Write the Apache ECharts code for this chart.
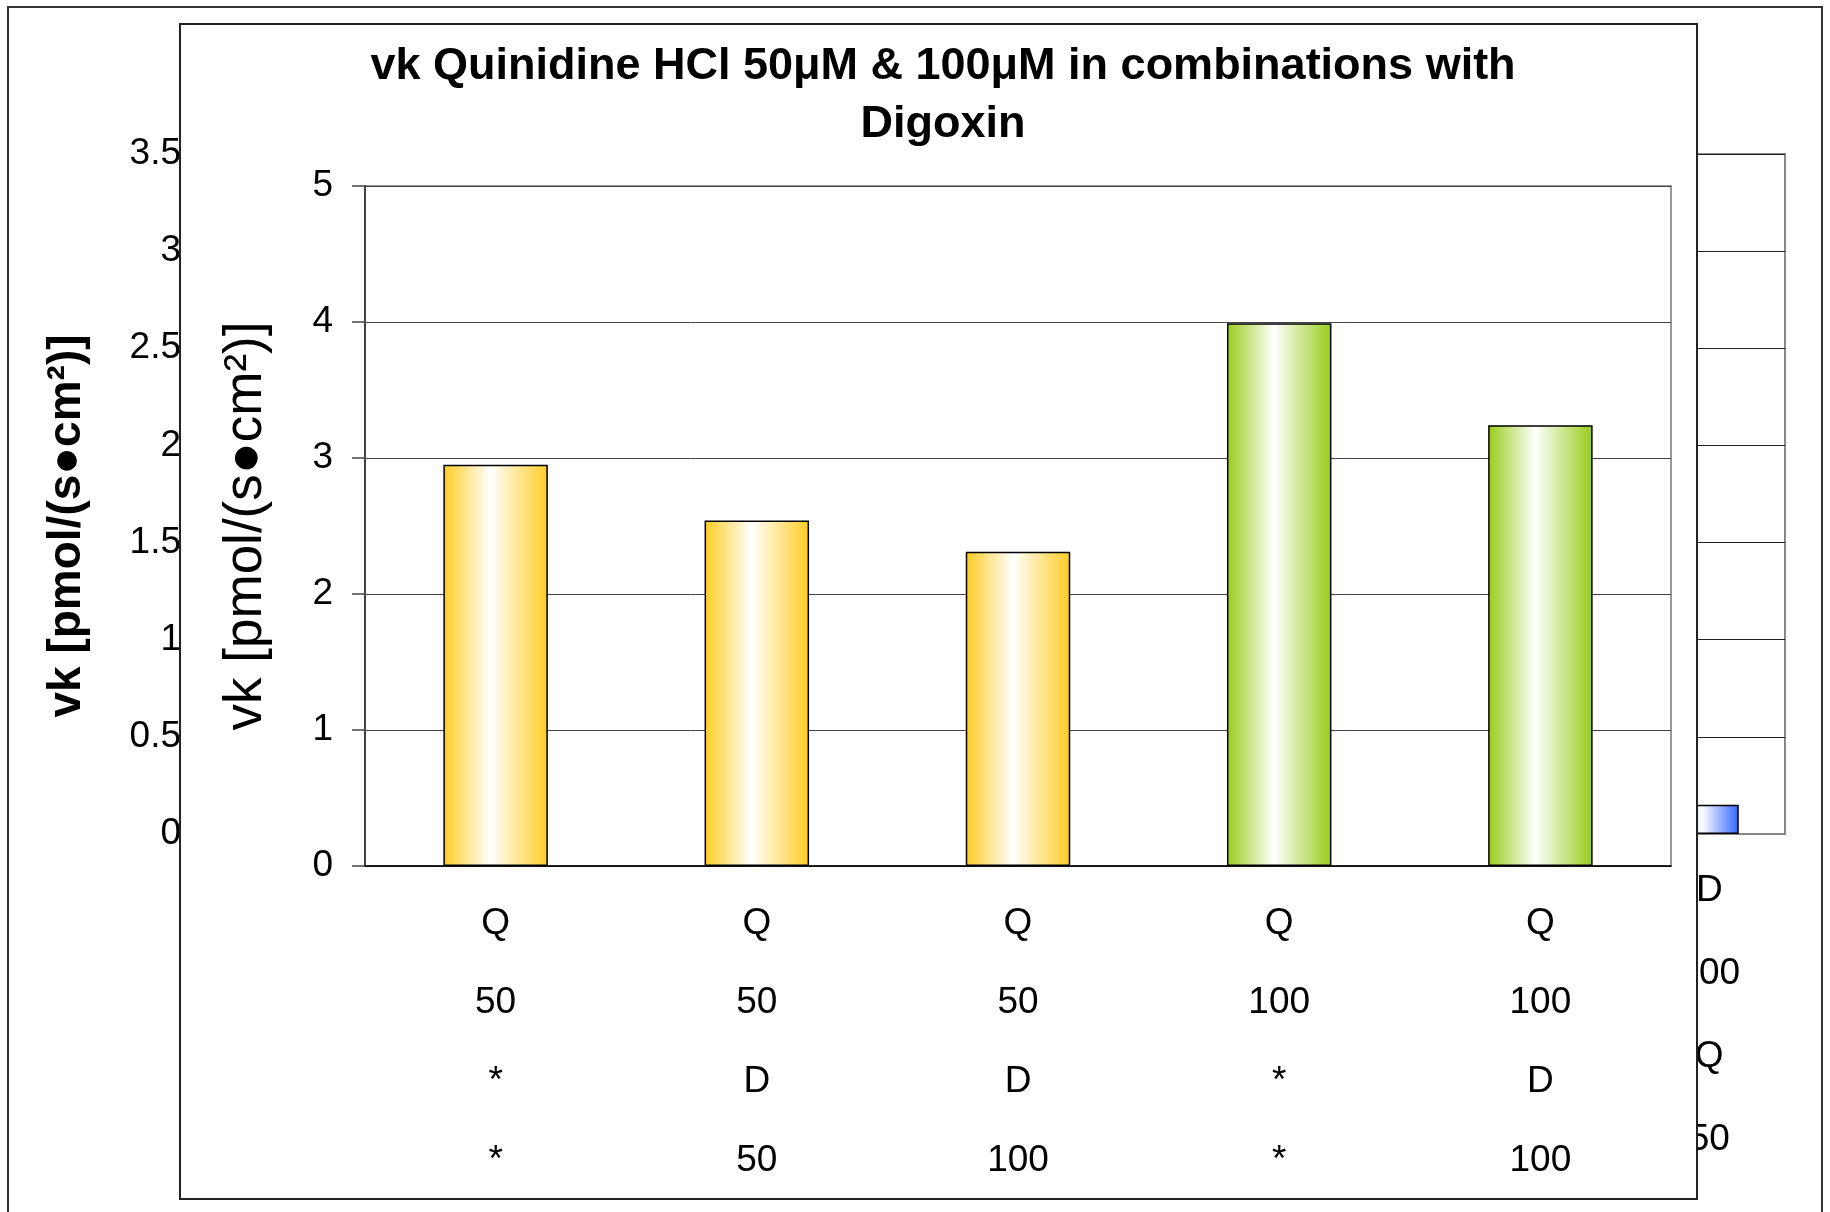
<!DOCTYPE html>
<html>
<head>
<meta charset="utf-8">
<script src="https://cdn.jsdelivr.net/npm/echarts@6/dist/echarts.min.js"></script>
<style>
  html, body { margin: 0; padding: 0; background: #fff; }
  #back { position: absolute; left: 0; top: 0; width: 1830px; height: 1212px; }
  #front { position: absolute; left: 179px; top: 23px; width: 1519px; height: 1177px; background: #fff; }
</style>
</head>
<body>
<div id="back"></div>
<div id="front"></div>
<script>
// Main chart: vk of Quinidine HCl alone and combined with Digoxin
const chartTitle = 'vk Quinidine HCl 50\u03bcM & 100\u03bcM in combinations with\nDigoxin';
const yAxisTitle = 'vk [pmol/(s\u25cfcm\u00b2)]';
const categoryLines = [
  ['Q', '50', '*', '*'],
  ['Q', '50', 'D', '50'],
  ['Q', '50', 'D', '100'],
  ['Q', '100', '*', '*'],
  ['Q', '100', 'D', '100']
];
const vkValues = [2.95, 2.54, 2.31, 3.99, 3.24];
const quinidineDose = [50, 50, 50, 100, 100];
const yTicks = { min: 0, max: 5, interval: 1 };

// Underlying sheet chart, mostly covered by the main chart panel
const backCategoryLines = [
  [], [], [], [], [], [], [], [], [],
  ['D', '100', 'Q', '50']
];
const backValues = [null, null, null, null, null, null, null, null, null, 0.15];
const backTicks = { min: 0, max: 3.5, interval: 0.5 };

const FONT = '"Liberation Sans", Arial, sans-serif';

function shade(edge) {
  return new echarts.graphic.LinearGradient(0, 0, 1, 0, [
    { offset: 0, color: edge },
    { offset: 0.45, color: '#ffffff' },
    { offset: 1, color: edge }
  ]);
}
const doseColor = { 50: '#FFCC22', 100: '#99CC1A' };

// ---------- back chart ----------
const back = echarts.init(document.getElementById('back'), null, { renderer: 'canvas' });
back.setOption({
  animation: false,
  textStyle: { fontFamily: FONT },
  graphic: [{
    type: 'rect', silent: true, z: 0,
    shape: { x: 8, y: 7, width: 1814, height: 1300 },
    style: { fill: 'none', stroke: '#333', lineWidth: 2 }
  }],
  grid: { left: 190, right: 45, top: 154, bottom: 378, show: true, borderColor: '#888', borderWidth: 2 },
  xAxis: {
    type: 'category',
    data: backCategoryLines.map(l => l.join('\n')),
    axisLine: { lineStyle: { color: '#888', width: 2 } },
    axisTick: { length: 331, lineStyle: { color: '#888', width: 2 } },
    axisLabel: { color: '#000', fontSize: 37, lineHeight: 83, margin: 15, interval: 0, padding: [0, 0, 0, 8] }
  },
  yAxis: {
    type: 'value',
    min: backTicks.min, max: backTicks.max, interval: backTicks.interval,
    name: yAxisTitle,
    nameLocation: 'middle',
    nameGap: 100,
    nameTextStyle: { fontSize: 46, fontWeight: 'bold', color: '#000', padding: [0, 64, 0, 0] },
    axisLine: { show: false },
    axisTick: { show: false },
    axisLabel: { color: '#000', fontSize: 37, margin: 9, padding: [7, 0, 0, 0] },
    splitLine: { lineStyle: { color: '#222', width: 1 } }
  },
  series: [{
    type: 'bar',
    data: backValues,
    barWidth: '42%',
    itemStyle: { color: shade('#3366FF'), borderColor: '#000', borderWidth: 1.5 }
  }]
});

// ---------- front chart ----------
const front = echarts.init(document.getElementById('front'), null, { renderer: 'canvas' });
front.setOption({
  animation: false,
  textStyle: { fontFamily: FONT },
  graphic: [{
    type: 'rect', silent: true, z: 0,
    shape: { x: 1, y: 1, width: 1517, height: 1175 },
    style: { fill: 'none', stroke: '#222', lineWidth: 2 }
  }],
  title: {
    text: chartTitle,
    left: 759,
    top: 10,
    textAlign: 'center',
    textStyle: { fontSize: 45, fontWeight: 'bold', color: '#000', lineHeight: 58, fontFamily: FONT }
  },
  grid: { left: 186, right: 27, top: 163, bottom: 334, show: true, borderColor: '#999', borderWidth: 2 },
  xAxis: {
    type: 'category',
    data: categoryLines.map(l => l.join('\n')),
    axisLine: { lineStyle: { color: '#000', width: 1.5 } },
    axisTick: { length: 317, lineStyle: { color: '#888', width: 2 } },
    axisLabel: { color: '#000', fontSize: 37, lineHeight: 79, margin: 18, interval: 0 }
  },
  yAxis: {
    type: 'value',
    min: yTicks.min, max: yTicks.max, interval: yTicks.interval,
    name: yAxisTitle,
    nameLocation: 'middle',
    nameGap: 92,
    nameTextStyle: { fontSize: 53, color: '#000' },
    axisLine: { show: true, lineStyle: { color: '#444', width: 2 } },
    axisTick: { show: true, length: 13, lineStyle: { color: '#444', width: 1.5 } },
    axisLabel: { color: '#000', fontSize: 37, margin: 32, padding: [5, 0, 0, 0] },
    splitLine: { lineStyle: { color: '#444', width: 1 } }
  },
  series: [{
    type: 'bar',
    data: vkValues.map((v, i) => ({
      value: v,
      itemStyle: { color: shade(doseColor[quinidineDose[i]]) }
    })),
    barWidth: '40%',
    itemStyle: { borderColor: '#000', borderWidth: 1.5 }
  }]
});
</script>
</body>
</html>
